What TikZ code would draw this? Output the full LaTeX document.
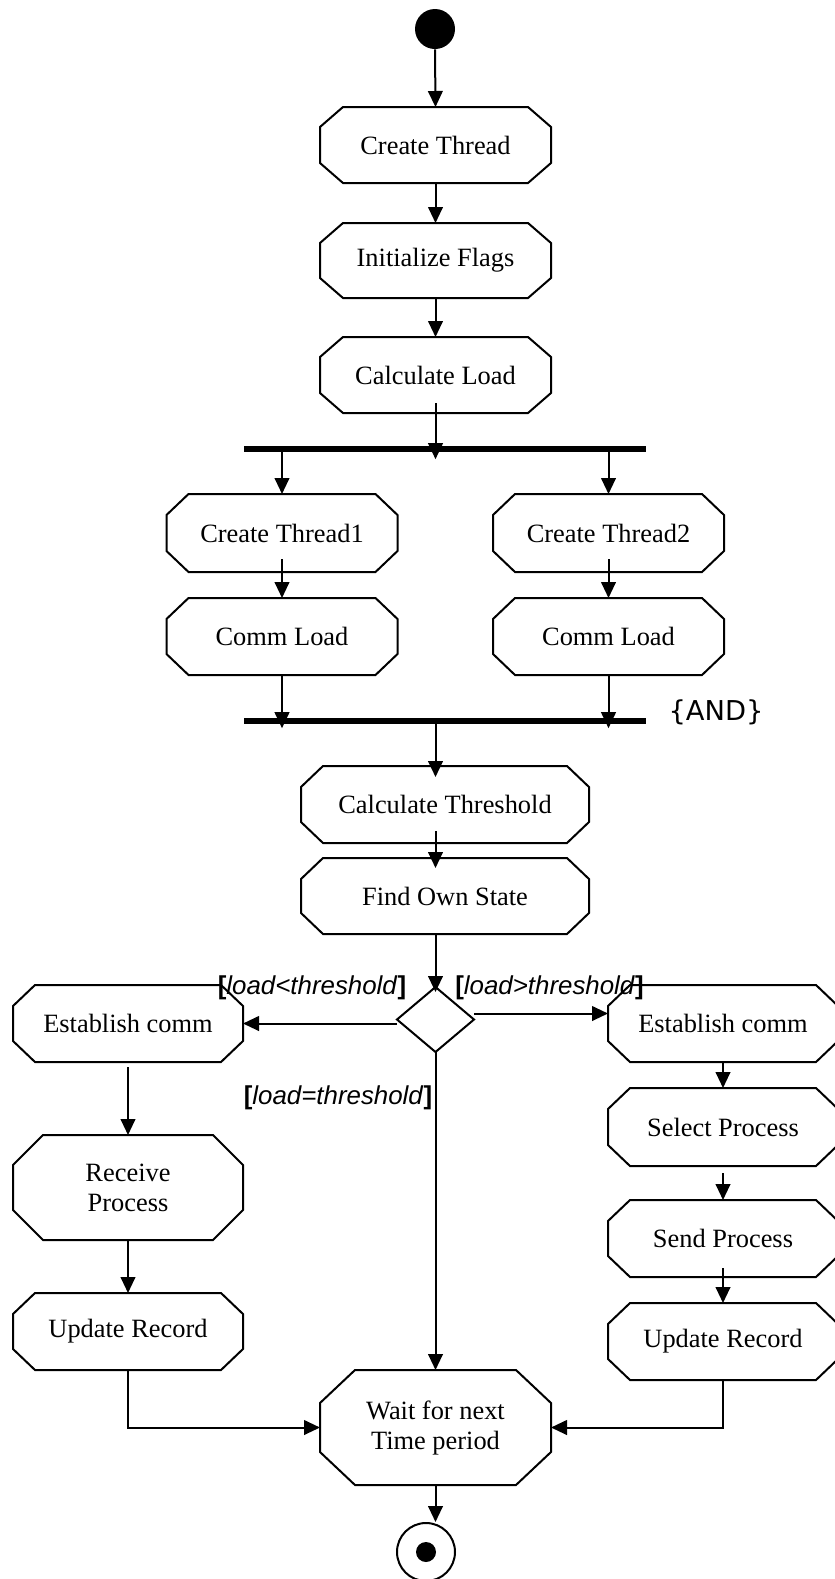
\documentclass[tikz,border=0pt]{standalone}
\usepackage{fontspec}
\setmainfont{Liberation Serif}
\newfontfamily\guardfont{Liberation Sans}
\newfontfamily\joinfont{DejaVu Sans}
\usetikzlibrary{arrows.meta,calc}

% octagonal activity outline around a named node: node, horizontal cut, vertical cut
\newcommand\drawoct[3]{%
  \draw[boxline] ($(#1.north west)+(#2,0)$) -- ($(#1.north east)+(-#2,0)$)
    -- ($(#1.north east)+(0,#3)$) -- ($(#1.south east)+(0,-#3)$)
    -- ($(#1.south east)+(-#2,0)$) -- ($(#1.south west)+(#2,0)$)
    -- ($(#1.south west)+(0,-#3)$) -- ($(#1.north west)+(0,#3)$) -- cycle;}

\begin{document}
\begin{tikzpicture}[x=0.75pt,y=-0.75pt,
  boxline/.style={draw=black, line width=1.5pt, line join=miter},
  act/.style={inner sep=0pt, outer sep=0pt, align=center,
    minimum width=173.25pt, minimum height=57.75pt,
    font=\fontsize{19.8}{22.5}\selectfont},
  wideact/.style={act, minimum width=216pt},
  flow/.style={-{Triangle[length=12pt,width=11pt]}, line width=1.5pt},
  syncbar/.style={fill=black, inner sep=0pt, outer sep=0pt,
    minimum width=301.5pt, minimum height=4.8pt},
  guard/.style={inner sep=0pt, font=\guardfont\fontsize{19.4}{22}\selectfont},
]
\useasboundingbox (0,0) rectangle (835,1579);
\fill[white] (0,0) rectangle (835,1579);

% initial and final states
\node[circle, fill=black, minimum size=30pt, inner sep=0pt] (start) at (435,29) {};
\node[circle, draw=black, line width=1.5pt, minimum size=43.5pt, inner sep=0pt] (end) at (426,1552) {};
\fill[black] (end.center) circle[radius=7.5pt];

% main sequence
\node[act, minimum height=57pt]    (ct)  at (435.5,145)   {Create Thread};
\node[act, minimum height=56.25pt] (inf) at (435.5,260.5) {Initialize Flags};
\node[act, minimum height=57pt]    (cl)  at (435.5,375)   {Calculate Load};

% fork / join bars
\node[syncbar] (bar1) at (445,449) {};
\node[syncbar] (bar2) at (445,721) {};
\node[inner sep=0pt, font=\joinfont\fontsize{20.5}{24}\selectfont] (join) at (716,712) {\{AND\}};

% parallel branches
\node[act, minimum height=58.5pt] (ct1) at (282,533)   {Create Thread1};
\node[act, minimum height=58.5pt] (ct2) at (608.5,533) {Create Thread2};
\node[act] (cm1) at (282,636.5)   {Comm Load};
\node[act] (cm2) at (608.5,636.5) {Comm Load};

\node[wideact] (cth) at (445,804.5) {Calculate Threshold};
\node[wideact, minimum height=57pt] (fos) at (445,896) {Find Own State};

% decision
\node[inner sep=0pt, outer sep=0pt, minimum width=57.75pt, minimum height=48.75pt] (dia) at (435.5,1019.5) {};
\draw[boxline] (dia.north) -- (dia.east) -- (dia.south) -- (dia.west) -- cycle;

% receiving side
\node[act, minimum width=172.5pt] (esl) at (128,1023.5) {Establish comm};
\node[act, minimum width=172.5pt, minimum height=78.75pt] (rp) at (128,1187.5) {Receive\\Process};
\node[act, minimum width=172.5pt] (url) at (128,1331.5) {Update Record};

% sending side
\node[act, minimum width=172.5pt] (esr) at (723,1023.5) {Establish comm};
\node[act, minimum width=172.5pt, minimum height=58.5pt] (sp) at (723,1127) {Select Process};
\node[act, minimum width=172.5pt] (snd) at (723,1238.5) {Send Process};
\node[act, minimum width=172.5pt] (urr) at (723,1341.5) {Update Record};

\node[act, minimum height=86.25pt] (wait) at (435.5,1427.5) {Wait for next\\Time period};

% outlines
\drawoct{ct}{23}{20}
\drawoct{inf}{23}{20}
\drawoct{cl}{23}{20}
\drawoct{ct1}{22}{21}
\drawoct{ct2}{22}{21}
\drawoct{cm1}{22}{21}
\drawoct{cm2}{22}{21}
\drawoct{cth}{22}{21}
\drawoct{fos}{22}{21}
\drawoct{esl}{22}{21}
\drawoct{esr}{22}{21}
\drawoct{rp}{30}{30}
\drawoct{url}{22}{21}
\drawoct{sp}{22}{21}
\drawoct{snd}{22}{21}
\drawoct{urr}{22}{21}
\drawoct{wait}{35}{33}

% guards
\node[guard] (lt) at (312,988)   {{\bfseries[}\textit{load<threshold}{\bfseries]}};
\node[guard] (gt) at (549.5,988) {{\bfseries[}\textit{load>threshold}{\bfseries]}};
\node[guard] (eq) at (338,1098)  {{\bfseries[}\textit{load=threshold}{\bfseries]}};

% transitions
\draw[flow] (start.south) -- (ct.north);
\draw[flow] (ct.south) -- (inf.north);
\draw[flow] (inf.south) -- (cl.north);
\draw[flow] ($(cl.south)+(0,-10)$) -- ($(cl.south |- bar1.south)+(0,7)$);
\draw[flow] (ct1.north |- bar1.south) -- (ct1.north);
\draw[flow] (ct2.north |- bar1.south) -- (ct2.north);
\draw[flow] ($(ct1.south)+(0,-13)$) -- (cm1.north);
\draw[flow] ($(ct2.south)+(0,-13)$) -- (cm2.north);
\draw[flow] (cm1.south) -- ($(cm1.south |- bar2.south)+(0,4)$);
\draw[flow] (cm2.south) -- ($(cm2.south |- bar2.south)+(0,4)$);
\draw[flow] (cl.south |- bar2.south) -- ($(cl.south |- cth.north)+(0,11)$);
\draw[flow] ($(cl.south |- cth.south)+(0,-12)$) -- ($(cl.south |- fos.north)+(0,10)$);
\draw[flow] (dia.north |- fos.south) -- ($(dia.north)+(0,5)$);
\draw[flow] (dia.west |- esl.east) -- (esl.east);
\draw[flow] ($(dia.east |- esr.west)+(0,-10)$) -- ($(esr.west)+(0,-10)$);
\draw[flow] (dia.south) -- (dia.south |- wait.north);
\draw[flow] ($(esl.south)+(0,5)$) -- (rp.north);
\draw[flow] (rp.south) -- (url.north);
\draw[flow] (esr.south) -- (sp.north);
\draw[flow] ($(sp.south)+(0,7)$) -- (snd.north);
\draw[flow] ($(snd.south)+(0,-9)$) -- (urr.north);
\draw[flow] (url.south) |- (wait.west);
\draw[flow] (urr.south) |- (wait.east);
\draw[flow] (wait.south) -- (wait.south |- end.north);
\end{tikzpicture}
\end{document}
